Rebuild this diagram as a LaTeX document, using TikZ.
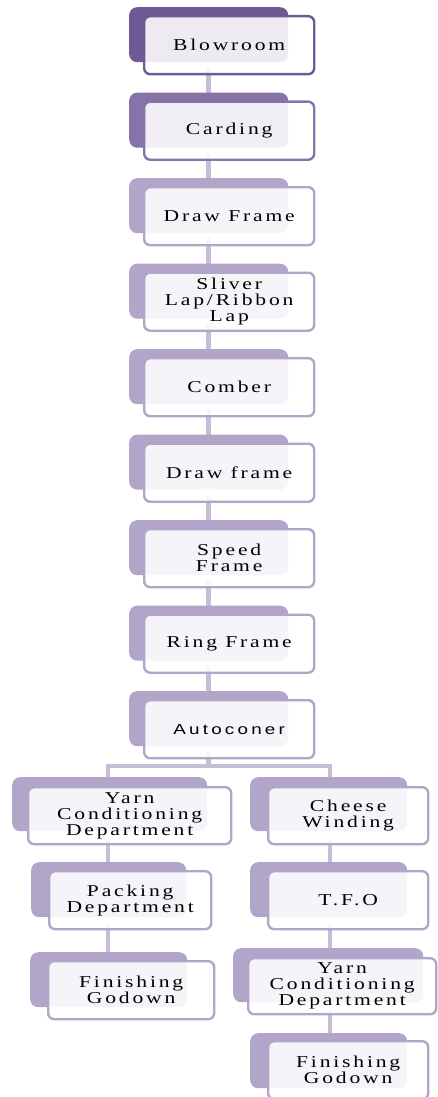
\documentclass[tikz,border=0pt]{standalone}
\usepackage{fontspec}
\setmainfont{Liberation Serif}
\newfontfamily\flowserif[FakeStretch=1.3,LetterSpace=17]{Liberation Serif}
\newfontfamily\flowsans[FakeStretch=1.3,LetterSpace=22]{Liberation Sans}
\definecolor{tierA}{HTML}{6F5997}
\definecolor{tierB}{HTML}{8773AA}
\definecolor{tierC}{HTML}{B1A6C9}
\definecolor{linkcol}{HTML}{C6BDD8}
\tikzset{
  x=1pt, y=-1pt,
  backbox/.style={draw=none, fill=#1, rounded corners=8pt, inner sep=0pt, anchor=north west},
  frontbox/.style={draw=#1, line width=2.4pt, fill=white, fill opacity=0.88, text opacity=1,
    rounded corners=6pt, inner sep=0pt, anchor=north west, align=center,
    font=\fontsize{16.6}{16}\flowserif},
  link/.style={draw=linkcol, line width=4.5pt},
}
% one stage: back card and front card with its label
% #1 name, #2 colour, #3 back x, #4 back y, #5 back w, #6 back h,
% #7 front x, #8 front y, #9 front w, then front h and label read below
\newcommand\stagecard[9]{%
  \def\stA{#1}\def\stB{#2}\def\stC{#3}\def\stD{#4}\def\stE{#5}\def\stF{#6}%
  \def\stG{#7}\def\stH{#8}\def\stI{#9}\stagecardrest}
\newcommand\stagecardrest[2]{%
  \node[backbox=\stB, minimum width=\stE pt, minimum height=\stF pt] (b\stA) at (\stC,\stD) {};
  \node[frontbox=\stB, minimum width=\stI pt, minimum height=#1 pt] (f\stA) at (\stG,\stH) {#2};}
\begin{document}
\begin{tikzpicture}
\useasboundingbox (0,0) rectangle (437,1097);
% centre-line coordinates for the connectors
\coordinate (bus) at (210,766);
% connectors (drawn first, under the cards)
\foreach \i/\j in {1/2,2/3,3/4,4/5,5/6,6/7,7/8,8/9}{
  \coordinate (c\i) at (208.5,{7+85.5*(\i-1)+60});
  \coordinate (d\i) at (208.5,{7+85.5*(\j-1)+2});
  \draw[link] (c\i) -- (d\i);
}
\coordinate (c9) at (208.5,{7+85.5*8+60});
\draw[link] (c9) -- (c9 |- bus);
\draw[link] (108,780) |- (bus) -| (330,780);
\coordinate (l1) at (108,840); \coordinate (l2) at (108,864);
\coordinate (l3) at (108,925); \coordinate (l4) at (108,954);
\draw[link] (l1) -- (l2); \draw[link] (l3) -- (l4);
\coordinate (r1) at (330,840); \coordinate (r2) at (330,864);
\coordinate (r3) at (330,925); \coordinate (r4) at (330,950);
\coordinate (r5) at (330,1010); \coordinate (r6) at (330,1035);
\draw[link] (r1) -- (r2); \draw[link] (r3) -- (r4); \draw[link] (r5) -- (r6);
% main column
\stagecard{1}{tierA}{129}{7}{159}{55}{143}{15}{170}{58}{Blowroom}
\stagecard{2}{tierB}{129}{92.5}{159}{55}{143}{100.5}{170}{58}{Carding}
\stagecard{3}{tierC}{129}{178}{159}{55}{143}{186}{170}{58}{Draw Frame}
\stagecard{4}{tierC}{129}{263.5}{159}{55}{143}{271.5}{170}{58}{\fontsize{16.6}{16.5}\selectfont Sliver\\Lap/Ribbon\\Lap}
\stagecard{5}{tierC}{129}{349}{159}{55}{143}{357}{170}{58}{Comber}
\stagecard{6}{tierC}{129}{434.5}{159}{55}{143}{442.5}{170}{58}{Draw frame}
\stagecard{7}{tierC}{129}{520}{159}{55}{143}{528}{170}{58}{Speed\\Frame}
\stagecard{8}{tierC}{129}{605.5}{159}{55}{143}{613.5}{170}{58}{Ring Frame}
\stagecard{9}{tierC}{129}{691}{159}{55}{143}{699}{170}{58}{\fontsize{14.5}{16}\flowsans Autoconer}
% left branch
\stagecard{L1}{tierC}{12}{777}{195}{54}{27}{786}{203}{57}{Yarn\\Conditioning\\Department}
\stagecard{L2}{tierC}{31}{862}{155}{55}{48}{870}{162}{58}{Packing\\Department}
\stagecard{L3}{tierC}{30}{952}{157}{55}{47}{960}{166}{58}{Finishing\\Godown}
% right branch
\stagecard{R1}{tierC}{250}{777}{157}{54}{267}{786}{160}{57}{Cheese\\Winding}
\stagecard{R2}{tierC}{250}{862}{157}{55}{267}{870}{160}{58}{T.F.O}
\stagecard{R3}{tierC}{233}{948}{190}{54}{247}{957}{188}{56}{Yarn\\Conditioning\\Department}
\stagecard{R4}{tierC}{250}{1033}{157}{55}{267}{1040}{160}{58}{Finishing\\Godown}
\end{tikzpicture}
\end{document}
